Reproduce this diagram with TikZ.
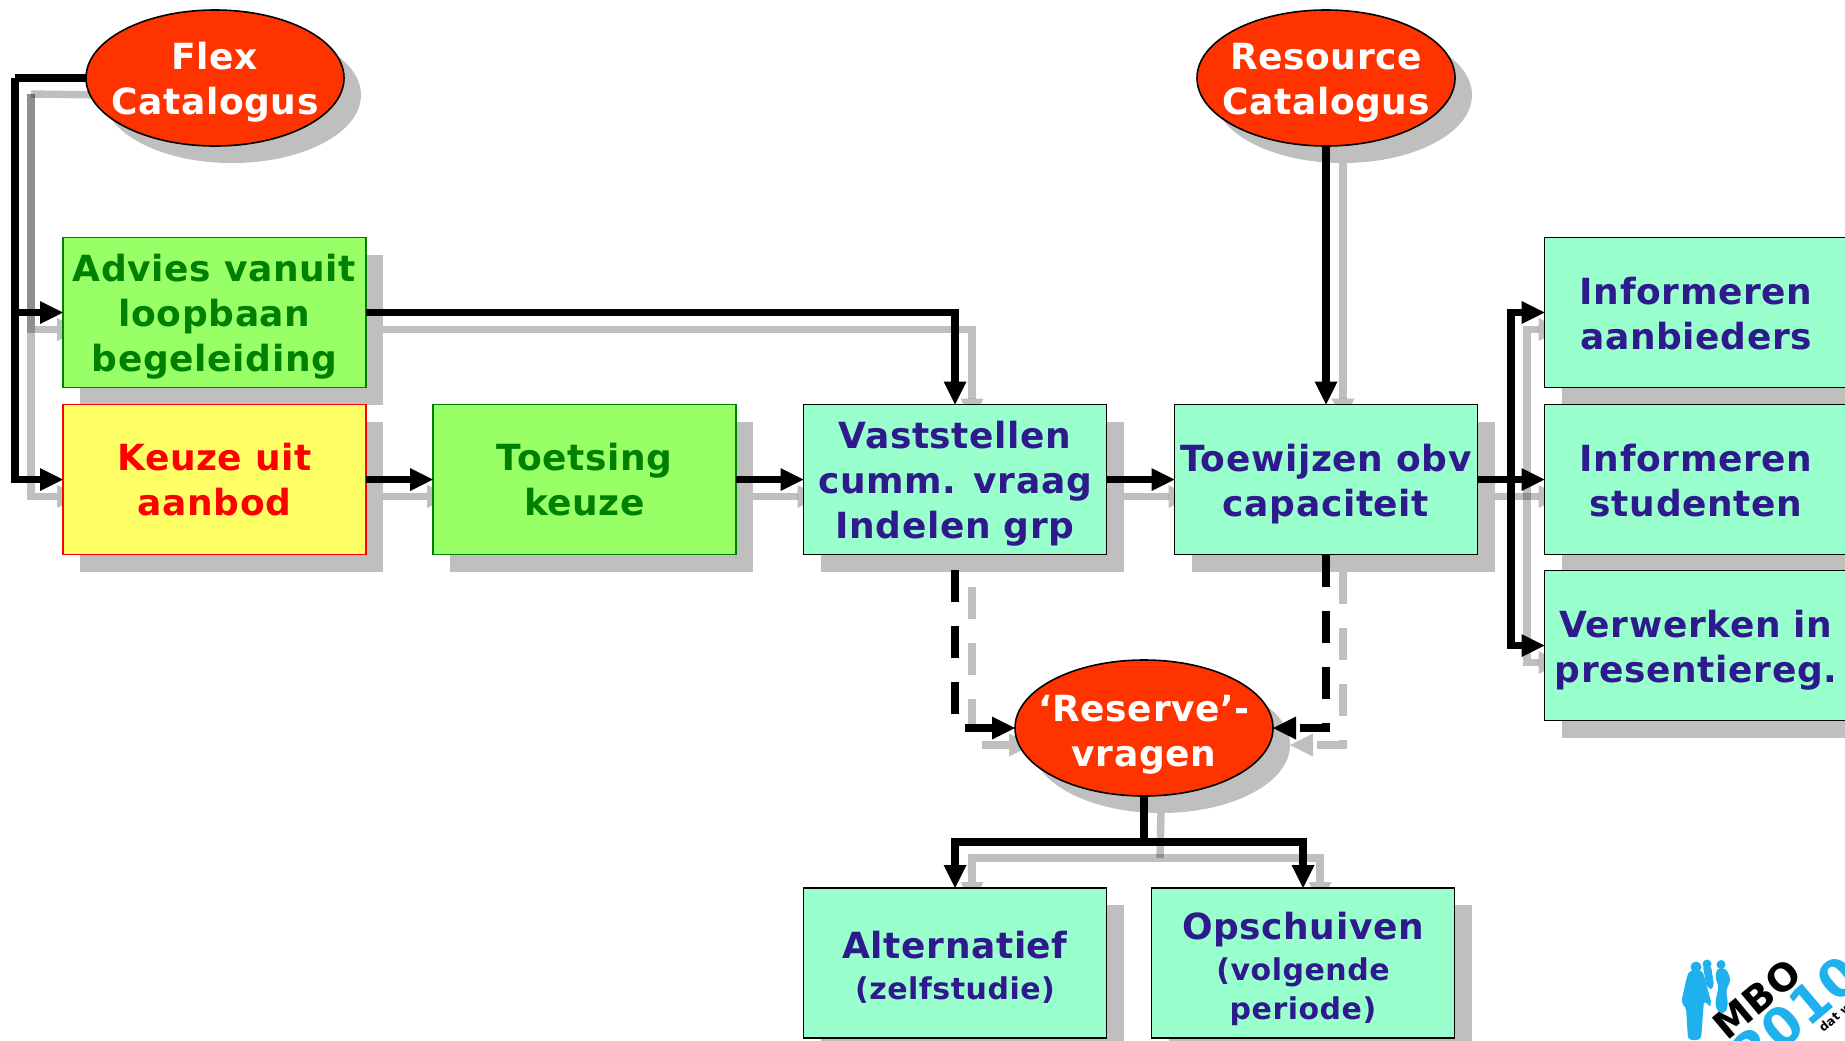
\documentclass[tikz,border=0pt]{standalone}
\usepackage{fontspec}
\setmainfont[LetterSpace=1.7]{DejaVu Sans}
\usetikzlibrary{arrows.meta,shapes.geometric,backgrounds}
\definecolor{boxgreen}{HTML}{99FF66}
\definecolor{boxyellow}{HTML}{FFFF66}
\definecolor{boxteal}{HTML}{99FFCC}
\definecolor{textblue}{HTML}{2E1A8C}
\definecolor{darkgreen}{HTML}{008000}
\definecolor{ovalred}{HTML}{FF3300}
\definecolor{logoblue}{HTML}{1FB0EE}
\colorlet{shadowgray}{black!25}
\tikzset{
  basebox/.style={rectangle,minimum width=151.5pt,minimum height=75pt,inner sep=0pt,outer sep=0pt,align=center,line width=.8pt,font=\fontsize{18}{22.5}\selectfont\bfseries},
  greenbox/.style={basebox,draw=darkgreen,fill=boxgreen,text=darkgreen},
  yellowbox/.style={basebox,draw=red,fill=boxyellow,text=red},
  tealbox/.style={basebox,draw=black,fill=boxteal,text=textblue},
  oval/.style={ellipse,draw=black,line width=.8pt,fill=ovalred,text=white,minimum width=129pt,minimum height=68pt,inner sep=-8pt,outer sep=0pt,align=center,font=\fontsize{18}{22.5}\selectfont\bfseries},
  boxshadow/.style={rectangle,fill=shadowgray,minimum width=151.5pt,minimum height=75pt,inner sep=0pt,outer sep=0pt},
  ovalshadow/.style={ellipse,fill=shadowgray,minimum width=129pt,minimum height=68pt,inner sep=0pt,outer sep=0pt},
  conn/.style={line width=3.7pt,-{Triangle[length=11.5pt,width=11.5pt,line width=0pt]}},
  plainconn/.style={line width=3.7pt},
  dashconn/.style={conn,dash pattern=on 16pt off 12pt},
  connshadow/.style={opacity=.25},
}
\newcommand{\smalltext}{\fontsize{15}{19.5}\selectfont}
\newcommand{\lift}[1]{\rule{0pt}{#1pt}}
\begin{document}
\begin{tikzpicture}[x=.5pt,y=-.5pt]
  \clip (0,0) rectangle (1845,1040);

  \node[oval] (flex) at (215,78) {\lift{18}Flex\\Catalogus};
  \node[oval] (resource) at (1326,78) {\lift{18}Resource\\Catalogus};
  \node[oval] (reserve) at (1144,728) {\lift{20}‘Reserve’-\\vragen};

  \node[greenbox] (advies) at (214.5,312.5) {\lift{18}Advies vanuit\\loopbaan\\begeleiding};
  \node[yellowbox] (keuze) at (214.5,479.5) {Keuze uit\\aanbod};
  \node[greenbox] (toetsing) at (584.5,479.5) {Toetsing\\keuze};
  \node[tealbox] (vast) at (955,479.5) {\lift{18}Vaststellen\\cumm. vraag\\Indelen grp};
  \node[tealbox] (toewijzen) at (1326,479.5) {\lift{18}Toewijzen obv\\capaciteit};
  \node[tealbox] (aanbieders) at (1696,312.5) {\lift{15}Informeren\\aanbieders};
  \node[tealbox] (studenten) at (1696,479.5) {\lift{15}Informeren\\studenten};
  \node[tealbox] (verwerken) at (1696,645.5) {\lift{18}Verwerken in\\presentiereg.};
  \node[tealbox] (alternatief) at (955,963) {\lift{17.5}Alternatief\\[-2pt]{\smalltext(zelfstudie)}};
  \node[tealbox] (opschuiven) at (1303,963) {\lift{19.7}Opschuiven\\[-2pt]{\smalltext(volgende}\\[-3pt]{\smalltext periode)}};

  \coordinate (flexbus) at (15,78);
  \coordinate (toewbus) at (1511,479.5);
  \coordinate (resbus) at (1144,842);

  \begin{scope}[on background layer]
    \foreach \n in {flex,resource,reserve}
      \node[ovalshadow] (\n s) at ([shift={(17,17)}]\n) {};
    \foreach \n in {advies,keuze,toetsing,vast,toewijzen,aanbieders,studenten,verwerken,alternatief,opschuiven}
      \node[boxshadow] (\n s) at ([shift={(17,17)}]\n) {};
    \foreach \n in {flexbus,toewbus,resbus}
      \coordinate (\n s) at ([shift={(16,16)}]\n);

    \draw[plainconn,connshadow] (flexs.west) -- (flexbuss);
    \draw[conn,connshadow] (flexbuss) |- (adviess.west);
    \draw[conn,connshadow] (flexbuss) |- (keuzes.west);
    \draw[conn,connshadow] (adviess.east) -| (vasts.north);
    \draw[conn,connshadow] (keuzes.east) -- (toetsings.west);
    \draw[conn,connshadow] (toetsings.east) -- (vasts.west);
    \draw[conn,connshadow] (vasts.east) -- (toewijzens.west);
    \draw[conn,connshadow] (resources.south) -- (toewijzens.north);
    \draw[conn,connshadow] (toewijzens.east) -- (studentens.west);
    \draw[conn,connshadow] (toewbuss) |- (aanbiederss.west);
    \draw[conn,connshadow] (toewbuss) |- (verwerkens.west);
    \draw[dashconn,dash phase=20.5pt,connshadow] (vasts.south) |- (reserves.west);
    \draw[dashconn,connshadow] (toewijzens.south) |- (reserves.east);
    \draw[plainconn,connshadow] (reserves.south) -- (resbuss);
    \draw[conn,connshadow] (resbuss) -| (alternatiefs.north);
    \draw[conn,connshadow] (resbuss) -| (opschuivens.north);
  \end{scope}

  \draw[plainconn] (flex.west) -- (flexbus);
  \draw[conn] (flexbus) |- (advies.west);
  \draw[conn] (flexbus) |- (keuze.west);
  \draw[conn] (advies.east) -| (vast.north);
  \draw[conn] (keuze.east) -- (toetsing.west);
  \draw[conn] (toetsing.east) -- (vast.west);
  \draw[conn] (vast.east) -- (toewijzen.west);
  \draw[conn] (resource.south) -- (toewijzen.north);
  \draw[conn] (toewijzen.east) -- (studenten.west);
  \draw[conn] (toewbus) |- (aanbieders.west);
  \draw[conn] (toewbus) |- (verwerken.west);
  \draw[dashconn,dash phase=20.5pt] (vast.south) |- (reserve.west);
  \draw[dashconn] (toewijzen.south) |- (reserve.east);
  \draw[plainconn] (reserve.south) -- (resbus);
  \draw[conn] (resbus) -| (alternatief.north);
  \draw[conn] (resbus) -| (opschuiven.north);

  \fill[logoblue] (1696,967) circle (5.5);
  \fill[logoblue] (1707,964) circle (4.5);
  \fill[logoblue] (1721,964.5) circle (4.5);
  \fill[logoblue,rounded corners=2pt] (1690,970) -- (1702,970) -- (1704,976) -- (1712,1005) -- (1708,1006) -- (1704,1000) -- (1701,1040) -- (1688,1040) -- (1686,1007) -- (1681,1003) -- (1687,976) -- cycle;
  \fill[logoblue,rounded corners=1pt] (1703,966) -- (1711,966) -- (1714,985) -- (1711,990) -- (1706,985) -- cycle;
  \fill[logoblue,rounded corners=2pt] (1717,968) -- (1726,968) -- (1731,980) -- (1726,990) -- (1728,1003) -- (1726,1013) -- (1718,1013) -- (1715,1003) -- (1719,985) -- (1715,979) -- cycle;

  \node[rotate=40,text=black,font=\fontsize{19}{19}\selectfont\bfseries] (mbo) at (1757,999) {MBO};
  \node[rotate=40,text=logoblue,font=\fontsize{26}{26}\selectfont\bfseries] (year) at (1796,1014) {2010};
  \node[rotate=40,text=black,anchor=west,font=\fontsize{6}{6}\selectfont\bfseries] (slogan) at (1815,1034) {dat w};
\end{tikzpicture}
\end{document}
